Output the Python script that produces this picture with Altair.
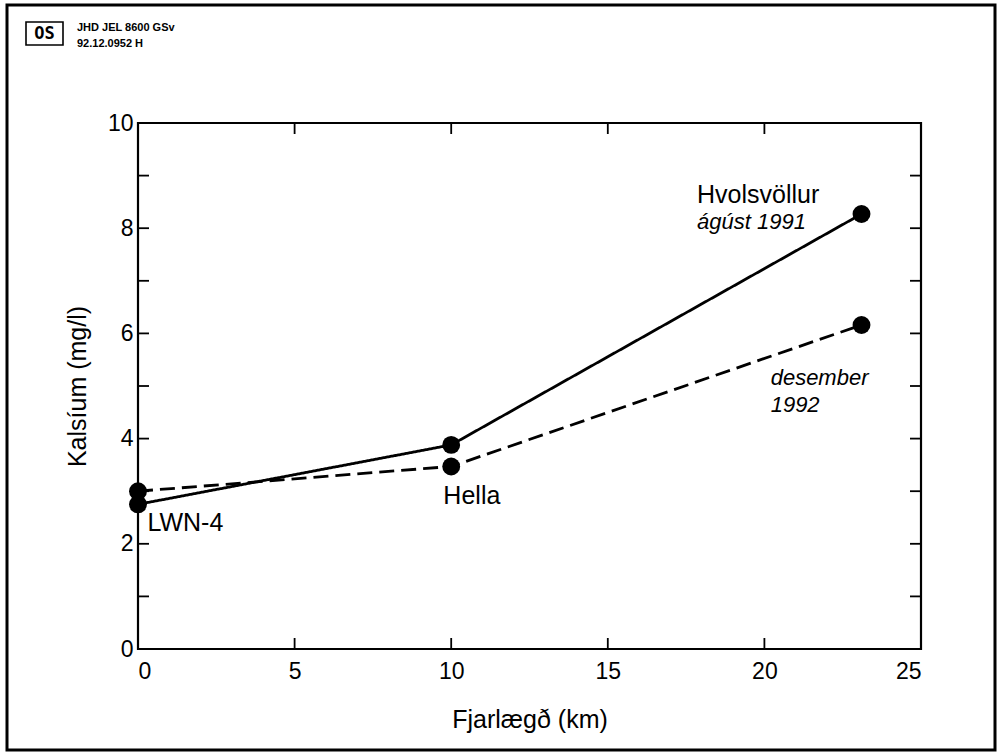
import altair as alt
import pandas as pd

# Calcium along the flow path: LWN-4 -> Hella -> Hvolsvöllur
distance_km = [0.0, 10.0, 23.1]
calcium_aug_1991 = [2.75, 3.88, 8.27]
calcium_dec_1992 = [3.0, 3.47, 6.16]
series_names = ["ágúst 1991", "desember 1992"]

# Annotation texts and where they sit in data units
site_labels = ["LWN-4", "Hella", "Hvolsvöllur"]
site_label_x = [0.3, 9.75, 17.85]
site_label_y = [2.25, 2.75, 8.48]
date_labels = ["ágúst 1991", "desember", "1992"]
date_label_x = [17.85, 20.2, 20.2]
date_label_y = [7.98, 5.02, 4.51]

x_ticks = [0, 5, 10, 15, 20, 25]
y_ticks = list(range(0, 11))
y_tick_labels = [0, 2, 4, 6, 8, 10]

W, H = 783, 526
FONT = "Liberation Sans"
TICK = 11

rows = []
for name, vals in zip(series_names, [calcium_aug_1991, calcium_dec_1992]):
    for d, v in zip(distance_km, vals):
        rows.append({"dist": d, "ca": v, "series": name})
df = pd.DataFrame(rows)

xs = alt.Scale(domain=[0, 25], nice=False, zero=False)
ys = alt.Scale(domain=[0, 10], nice=False, zero=False)

x_axis = alt.Axis(
    values=x_ticks, ticks=False, domain=False, grid=False,
    labelFont=FONT, labelFontSize=23, labelColor="black", labelPadding=11,
    title="Fjarlægð (km)", titleFont=FONT, titleFontSize=25,
    titleFontWeight="normal", titleColor="black",
    titleY=78, titleBaseline="alphabetic",
)
y_axis = alt.Axis(
    values=y_tick_labels, ticks=False, domain=False, grid=False,
    labelFont=FONT, labelFontSize=23, labelColor="black", labelPadding=5,
    title="Kalsíum (mg/l)", titleFont=FONT, titleFontSize=25,
    titleFontWeight="normal", titleColor="black",
    titleX=-61, titleY=H / 2, titleAngle=270,
    titleAlign="center", titleBaseline="middle",
)


def X(field):
    return alt.X(field, scale=xs, axis=x_axis, title="Fjarlægð (km)")


def Y(field):
    return alt.Y(field, scale=ys, axis=y_axis, title="Kalsíum (mg/l)")


dash = alt.StrokeDash(
    "series:N",
    scale=alt.Scale(domain=series_names, range=[[1, 0], [15, 7]]),
    legend=None,
)

lines = alt.Chart(df).mark_line(color="black", strokeWidth=2.8).encode(
    x=X("dist:Q"), y=Y("ca:Q"), strokeDash=dash, detail="series:N",
)

points = alt.Chart(df).mark_circle(color="black", opacity=1, size=320).encode(
    x=X("dist:Q"), y=Y("ca:Q"),
)

site_df = pd.DataFrame({"t": site_labels, "x": site_label_x, "y": site_label_y})
site_text = alt.Chart(site_df).mark_text(
    font=FONT, fontSize=25, align="left", baseline="alphabetic", color="black"
).encode(x=X("x:Q"), y=Y("y:Q"), text="t:N")

date_df = pd.DataFrame({"t": date_labels, "x": date_label_x, "y": date_label_y})
date_text = alt.Chart(date_df).mark_text(
    font=FONT, fontSize=22, fontStyle="italic", align="left",
    baseline="alphabetic", color="black"
).encode(x=X("x:Q"), y=Y("y:Q"), text="t:N")

# Inward tick marks on all four sides of the frame
ydf = pd.DataFrame({"v": y_ticks})
xdf = pd.DataFrame({"v": x_ticks})
tick_style = dict(color="black", strokeWidth=1.8)
left_ticks = alt.Chart(ydf).mark_rule(**tick_style).encode(
    y=Y("v:Q"), x=alt.value(0), x2=alt.value(TICK))
right_ticks = alt.Chart(ydf).mark_rule(**tick_style).encode(
    y=Y("v:Q"), x=alt.value(W - TICK), x2=alt.value(W))
bottom_ticks = alt.Chart(xdf).mark_rule(**tick_style).encode(
    x=X("v:Q"), y=alt.value(H - TICK), y2=alt.value(H))
top_ticks = alt.Chart(xdf).mark_rule(**tick_style).encode(
    x=X("v:Q"), y=alt.value(0), y2=alt.value(TICK))

# Page frame and drawing stamp in the corner
one = pd.DataFrame({"k": [0]})
frame = alt.Chart(one).mark_rect(fill=None, stroke="black", strokeWidth=3).encode(
    x=alt.value(-131), x2=alt.value(857), y=alt.value(-118), y2=alt.value(627))
logo_box = alt.Chart(one).mark_rect(fill=None, stroke="black", strokeWidth=1.6).encode(
    x=alt.value(-112), x2=alt.value(-75), y=alt.value(-101), y2=alt.value(-78))
logo_text = alt.Chart(one).mark_text(
    text="OS", font="DejaVu Sans Mono", fontSize=17, fontWeight="bold",
    align="center", baseline="middle", color="black"
).encode(x=alt.value(-93.5), y=alt.value(-89))
stamp1 = alt.Chart(one).mark_text(
    text="JHD JEL 8600 GSv", font=FONT, fontSize=11, fontWeight="bold",
    align="left", baseline="alphabetic", color="black"
).encode(x=alt.value(-61), y=alt.value(-92))
stamp2 = alt.Chart(one).mark_text(
    text="92.12.0952 H", font=FONT, fontSize=11, fontWeight="bold",
    align="left", baseline="alphabetic", color="black"
).encode(x=alt.value(-61), y=alt.value(-76))

chart = alt.layer(
    lines, points, site_text, date_text,
    left_ticks, right_ticks, bottom_ticks, top_ticks,
    frame, logo_box, logo_text, stamp1, stamp2,
).properties(
    width=W, height=H,
    autosize=alt.AutoSizeParams(type="none"),
    padding={"left": 138, "top": 123, "right": 77, "bottom": 103},
    background="white",
).configure_view(
    stroke="black", strokeWidth=2.2
)

chart.save("out.html", embed_options={"renderer": "svg", "actions": False})
